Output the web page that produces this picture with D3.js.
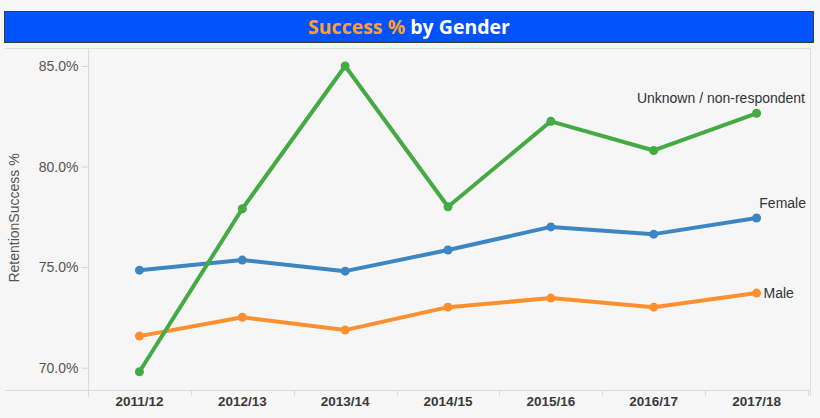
<!DOCTYPE html>
<html><head><meta charset="utf-8">
<script src="https://cdn.jsdelivr.net/npm/d3@7"></script>
<style>body{margin:0;background:#f6f6f6;}svg{display:block;}</style>
</head><body>
<svg id="c" width="820" height="418"></svg>
<script>
const years = ["2011/12","2012/13","2013/14","2014/15","2015/16","2016/17","2017/18"];
const unknownVals = [69.8, 77.9, 85.0, 78.0, 82.25, 80.8, 82.65];
const femaleVals  = [74.85, 75.35, 74.8, 75.85, 77.0, 76.64, 77.44];
const maleVals    = [71.57, 72.51, 71.87, 73.01, 73.46, 73.01, 73.71];
const yTicks = [70, 75, 80, 85];
const seriesNames = ["Unknown / non-respondent","Female","Male"];
const seriesColors = ["#44ab44","#3d86c4","#fd902e"];

const series = [
  {name: seriesNames[0], values: unknownVals, color: seriesColors[0]},
  {name: seriesNames[1], values: femaleVals, color: seriesColors[1]},
  {name: seriesNames[2], values: maleVals, color: seriesColors[2]}
];

const FONT = "Arial, 'Liberation Sans', sans-serif";
const svg = d3.select("#c");
svg.append("rect").attr("width",820).attr("height",418).attr("fill","#f6f6f6");

// title bar
svg.append("rect").attr("x",4.5).attr("y",11.5).attr("width",809).attr("height",31)
  .attr("fill","#0052fb").attr("stroke","#3a3a3a").attr("stroke-width",1);
const title = svg.append("text").attr("x",409).attr("y",34).attr("text-anchor","middle")
  .attr("font-family","'Open Sans', sans-serif").attr("font-weight","bold").attr("font-size",19.5);
title.append("tspan").attr("fill","#ff9f2f").text("Success %");
title.append("tspan").attr("fill","#ffffff").text(" by Gender");

const x = d3.scaleBand().domain(years).range([88, 808]);
const y = d3.scaleLinear().domain([70, 85]).range([367.7, 66]);

// panel borders
svg.append("line").attr("x1",5).attr("x2",811).attr("y1",48.5).attr("y2",48.5).attr("stroke","#dedede");
svg.append("line").attr("x1",810.5).attr("x2",810.5).attr("y1",48).attr("y2",396).attr("stroke","#dedede");

// y axis
const yAxis = svg.append("g").attr("transform","translate(88.5,0)")
  .call(d3.axisLeft(y).tickValues(yTicks).tickFormat(d => d.toFixed(1)+"%").tickSize(7).tickPadding(3));
yAxis.select(".domain").remove();
yAxis.selectAll(".tick line").attr("stroke","#d4d4d4");
yAxis.selectAll(".tick text").attr("fill","#555").attr("font-family",FONT).attr("font-size",14);
svg.append("line").attr("x1",88.5).attr("x2",88.5).attr("y1",48).attr("y2",397).attr("stroke","#dcdcdc");

// x axis
svg.append("line").attr("x1",5).attr("x2",811).attr("y1",390.5).attr("y2",390.5).attr("stroke","#dcdcdc");
const xAxis = svg.append("g").attr("transform","translate(0,390.5)")
  .call(d3.axisBottom(x).tickSize(0).tickPadding(6));
xAxis.select(".domain").remove();
xAxis.selectAll(".tick text").attr("fill","#3a3a3a").attr("font-weight","bold")
  .attr("font-family",FONT).attr("font-size",13.5);
svg.append("g").selectAll("line").data(years.concat(["__end"])).join("line")
  .attr("x1",(d,i)=> Math.round(i<years.length ? x(d) : x.range()[1]) + 0.5)
  .attr("x2",(d,i)=> Math.round(i<years.length ? x(d) : x.range()[1]) + 0.5)
  .attr("y1",390).attr("y2",396).attr("stroke","#dcdcdc");

// y title
svg.append("text").attr("transform","translate(19,218) rotate(-90)").attr("text-anchor","middle")
  .attr("fill","#555").attr("font-family",FONT).attr("font-size",14)
  .text("RetentionSuccess %");

const cx = d => x(d) + x.bandwidth()/2;
const line = d3.line().x((v,i)=>cx(years[i])).y(v=>y(v));

const drawOrder = [series[2], series[1], series[0]];
drawOrder.forEach(s => {
  svg.append("path").datum(s.values).attr("d", line).attr("fill","none")
    .attr("stroke", s.color).attr("stroke-width",4).attr("stroke-linejoin","round");
  svg.append("g").selectAll("circle").data(s.values).join("circle")
    .attr("cx",(v,i)=>cx(years[i])).attr("cy",v=>y(v)).attr("r",4.5).attr("fill",s.color);
});

// labels
const lastX = cx(years[years.length-1]);
const lab = (t, xx, yy, anchor) => svg.append("text").attr("x",xx).attr("y",yy).attr("text-anchor",anchor)
  .attr("fill","#333").attr("font-family",FONT).attr("font-size",14).text(t);
lab(seriesNames[0], 805, y(unknownVals[6]) - 10, "end");
lab(seriesNames[1], 806, y(femaleVals[6]) - 10, "end");
lab(seriesNames[2], lastX + 7, y(maleVals[6]) + 5, "start");
</script>
</body></html>
